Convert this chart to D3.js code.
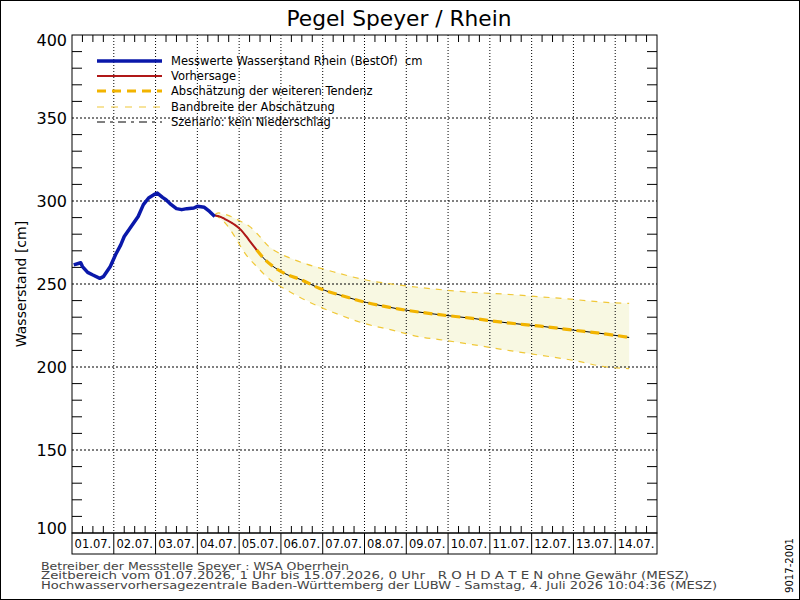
<!DOCTYPE html>
<html>
<head>
<meta charset="utf-8">
<script src="https://cdn.jsdelivr.net/npm/d3@7"></script>
<style>
  body { margin: 0; background: #fff; }
  svg { display: block; font-family: "DejaVu Sans", sans-serif; }
</style>
</head>
<body>
<div id="chart"></div>
<script>

/* Hours counted from 01.07. 00:00, levels in cm */

let measuredHours = [1, 5, 6, 9, 12, 16, 18, 22, 25, 28, 30, 34, 38, 41, 44, 47, 49, 52, 54, 57, 60, 63, 66, 70, 72, 76, 79, 82];
let measuredLevel = [261.5, 262.8, 260.5, 257.0, 255.4, 253.4, 254.4, 260.5, 267.6, 273.6, 278.6, 284.7, 290.7, 297.8, 301.8, 303.8, 304.8, 302.2, 300.8, 297.8, 295.4, 294.8, 295.4, 295.8, 296.8, 296.2, 293.7, 290.7];

let forecastHours = [82, 85, 88, 93, 97, 100, 103, 106];
let forecastLevel = [291.3, 290.6, 289.0, 286.0, 282.6, 278.8, 274.6, 270.6];

let trendHours = [106, 111, 117, 122, 132, 142, 154, 169, 188, 208, 230, 250, 269, 288, 307, 320];
let trendLevel = [270.6, 264.5, 259.5, 256.4, 252.4, 247.4, 243.3, 238.9, 234.9, 231.9, 229.3, 226.6, 224.6, 222.2, 219.8, 217.8];

let upperHours = [82, 84, 91, 97, 102, 107, 113, 119, 128, 150, 169, 188, 208, 230, 250, 269, 288, 307, 320];
let upperLevel = [291.7, 292.8, 290.8, 287.7, 284.7, 279.6, 272.6, 268.6, 264.5, 257.4, 252.4, 249.4, 247.0, 245.0, 243.8, 242.3, 240.7, 238.9, 238.3];

let lowerHours = [82, 88, 95, 98, 107, 114, 120, 140, 154, 168, 184, 200, 211, 230, 250, 269, 288, 307, 320];
let lowerLevel = [291.7, 286.7, 276.0, 270.6, 259.5, 252.4, 248.4, 237.3, 231.3, 226.2, 222.2, 218.1, 216.5, 213.5, 210.1, 207.1, 204.0, 200.0, 199.0];

let dayLabels = ["01.07.", "02.07.", "03.07.", "04.07.", "05.07.", "06.07.", "07.07.",
                 "08.07.", "09.07.", "10.07.", "11.07.", "12.07.", "13.07.", "14.07."];
let yTicks = [100, 150, 200, 250, 300, 350, 400];

let legendLabels = ["Messwerte Wasserstand Rhein (BestOf)  cm", "Vorhersage",
                    "Abschätzung der weiteren Tendenz", "Bandbreite der Abschätzung",
                    "Szenario: kein Niederschlag"];

let footerLines = ["Betreiber der Messstelle Speyer : WSA Oberrhein",
                   "Zeitbereich vom 01.07.2026, 1 Uhr bis 15.07.2026, 0 Uhr   R O H D A T E N ohne Gewähr (MESZ)",
                   "Hochwasservorhersagezentrale Baden-Württemberg der LUBW - Samstag, 4. Juli 2026 10:04:36 (MESZ)"];

/* Dimensions */
let width = 800;
let height = 600;
let plot = {left: 72, right: 657, top: 35, bottom: 533};
let boxHeight = 21;

let colBlue = "#0a18aa";
let colRed = "#b01818";
let colOrange = "#f2b400";
let colBand = "#f0c838";
let colFill = "#f8f8e2";

let svg = d3.select("#chart")
            .append("svg")
              .attr("width", width)
              .attr("height", height);

svg.append("rect")
     .attr("x", 0.5).attr("y", 0.5)
     .attr("width", width - 1).attr("height", height - 1)
     .attr("fill", "#fff")
     .attr("stroke", "#000");

let x = d3.scaleLinear()
          .domain([0, dayLabels.length * 24])
          .range([plot.left, plot.right]);

let y = d3.scaleLinear()
          .domain([100, 400])
          .range([plot.bottom, plot.top]);

let line = d3.line()
             .x(d => x(d[0]))
             .y(d => y(d[1]));

let smooth = d3.line()
               .x(d => x(d[0]))
               .y(d => y(d[1]))
               .curve(d3.curveMonotoneX);

let zip = (hs, vs) => hs.map((h, i) => [h, vs[i]]);

// band fill between upper and lower estimate
let bandPoly = zip(upperHours, upperLevel).concat(zip(lowerHours, lowerLevel).reverse());
svg.append("path")
     .attr("d", line(bandPoly) + "Z")
     .attr("fill", colFill)
     .attr("stroke", "none");

// grid
let hGrid = svg.append("g");
hGrid.selectAll("line")
     .data(yTicks.slice(1, -1))
     .enter()
     .append("line")
       .attr("x1", plot.left).attr("x2", plot.right)
       .attr("y1", d => y(d)).attr("y2", d => y(d))
       .attr("stroke", "#000")
       .attr("stroke-dasharray", "2,2");

let vGrid = svg.append("g");
vGrid.selectAll("line")
     .data(d3.range(1, dayLabels.length))
     .enter()
     .append("line")
       .attr("x1", d => x(d * 24)).attr("x2", d => x(d * 24))
       .attr("y1", plot.top).attr("y2", plot.bottom)
       .attr("stroke", "#000")
       .attr("stroke-dasharray", "1,2");

// minor ticks, pointing inwards
let hourTicks = d3.range(6, dayLabels.length * 24, 6).filter(h => h % 24 != 0);
let levelTicks = d3.range(110, 400, 10).filter(v => v % 50 != 0);
let ticks = svg.append("g").attr("stroke", "#000");

ticks.selectAll(".tt").data(hourTicks).enter().append("line")
     .attr("x1", d => x(d)).attr("x2", d => x(d))
     .attr("y1", plot.top).attr("y2", plot.top + 7);
ticks.selectAll(".tb").data(hourTicks).enter().append("line")
     .attr("x1", d => x(d)).attr("x2", d => x(d))
     .attr("y1", plot.bottom).attr("y2", plot.bottom - 7);
ticks.selectAll(".tl").data(levelTicks).enter().append("line")
     .attr("x1", plot.left).attr("x2", plot.left + 10)
     .attr("y1", d => y(d)).attr("y2", d => y(d));
ticks.selectAll(".tr").data(levelTicks).enter().append("line")
     .attr("x1", plot.right).attr("x2", plot.right - 10)
     .attr("y1", d => y(d)).attr("y2", d => y(d));

// band edges
[zip(upperHours, upperLevel), zip(lowerHours, lowerLevel)].forEach(pts => {
  svg.append("path")
       .attr("d", smooth(pts))
       .attr("fill", "none")
       .attr("stroke", colBand)
       .attr("stroke-width", 1.2)
       .attr("stroke-dasharray", "6,6");
});

// scenario without rain (follows the forecast and trend)
let scenario = zip(forecastHours, forecastLevel).concat(zip(trendHours.slice(1), trendLevel.slice(1)));
svg.append("path")
     .attr("d", smooth(scenario))
     .attr("fill", "none")
     .attr("stroke", "#000")
     .attr("stroke-width", 1);

svg.append("path")
     .attr("d", smooth(zip(trendHours, trendLevel)))
     .attr("fill", "none")
     .attr("stroke", colOrange)
     .attr("stroke-width", 3.2)
     .attr("stroke-dasharray", "9,5");

svg.append("path")
     .attr("d", smooth(zip(forecastHours, forecastLevel)))
     .attr("fill", "none")
     .attr("stroke", colRed)
     .attr("stroke-width", 2);

svg.append("path")
     .attr("d", line(zip(measuredHours, measuredLevel)))
     .attr("fill", "none")
     .attr("stroke", colBlue)
     .attr("stroke-width", 3.5)
     .attr("stroke-linejoin", "round");

// frame
svg.append("rect")
     .attr("x", plot.left).attr("y", plot.top)
     .attr("width", plot.right - plot.left)
     .attr("height", plot.bottom - plot.top)
     .attr("fill", "none")
     .attr("stroke", "#000");

// y labels
svg.append("g")
   .selectAll("text")
   .data(yTicks)
   .enter()
   .append("text")
     .attr("x", plot.left - 5)
     .attr("y", d => y(d) + (d == 400 ? 5 : d == 100 ? -5 : 0))
     .attr("dy", "0.36em")
     .attr("text-anchor", "end")
     .attr("font-size", 16)
     .text(d => d);

svg.append("text")
     .attr("transform", `translate(26, ${(plot.top + plot.bottom) / 2}) rotate(-90)`)
     .attr("text-anchor", "middle")
     .attr("font-size", 14)
     .text("Wasserstand [cm]");

// date boxes
let dayBox = svg.append("g");
dayBox.append("rect")
        .attr("x", plot.left).attr("y", plot.bottom)
        .attr("width", plot.right - plot.left).attr("height", boxHeight)
        .attr("fill", "none").attr("stroke", "#000");
dayBox.selectAll("line")
        .data(d3.range(1, dayLabels.length))
        .enter()
        .append("line")
          .attr("x1", d => x(d * 24)).attr("x2", d => x(d * 24))
          .attr("y1", plot.bottom).attr("y2", plot.bottom + boxHeight)
          .attr("stroke", "#000");
dayBox.selectAll("text")
        .data(dayLabels)
        .enter()
        .append("text")
          .attr("x", (d, i) => x(i * 24 + 12))
          .attr("y", plot.bottom + 15)
          .attr("text-anchor", "middle")
          .attr("font-size", 11.5)
          .text(d => d);

// title
svg.append("text")
     .attr("x", 399)
     .attr("y", 26)
     .attr("text-anchor", "middle")
     .attr("font-size", 22)
     .attr("textLength", 225)
     .attr("lengthAdjust", "spacingAndGlyphs")
     .text("Pegel Speyer / Rhein");

// legend
let legendY = [61, 76, 91, 107, 122];
let legendStyles = [
  {stroke: colBlue, width: 3.5, dash: null},
  {stroke: colRed, width: 2, dash: null},
  {stroke: colOrange, width: 3.2, dash: "9,6"},
  {stroke: colBand, width: 1.2, dash: "7,7"},
  {stroke: "#000", width: 1, dash: "8,5,3,5"}
];
let legend = svg.append("g");
legend.selectAll("line")
      .data(legendStyles)
      .enter()
      .append("line")
        .attr("x1", 97).attr("x2", 162)
        .attr("y1", (d, i) => legendY[i]).attr("y2", (d, i) => legendY[i])
        .attr("stroke", d => d.stroke)
        .attr("stroke-width", d => d.width)
        .attr("stroke-dasharray", d => d.dash);
legend.selectAll("text")
      .data(legendLabels)
      .enter()
      .append("text")
        .attr("x", 171)
        .attr("y", (d, i) => legendY[i])
        .attr("dy", "0.36em")
        .attr("font-size", 11.5)
        .style("white-space", "pre")
        .text(d => d);

// footer
let footerWidths = [308, 648, 676];
svg.append("g")
   .selectAll("text")
   .data(footerLines)
   .enter()
   .append("text")
     .attr("x", 41)
     .attr("y", (d, i) => 569.5 + i * 9.5)
     .attr("font-size", 10)
     .attr("fill", "#444")
     .attr("textLength", (d, i) => footerWidths[i])
     .attr("lengthAdjust", "spacingAndGlyphs")
     .style("white-space", "pre")
     .text(d => d);

svg.append("text")
     .attr("transform", "translate(793, 593) rotate(-90)")
     .attr("font-size", 10)
     .attr("textLength", 55)
     .attr("lengthAdjust", "spacingAndGlyphs")
     .text("9017-2001");

</script>
</body>
</html>
